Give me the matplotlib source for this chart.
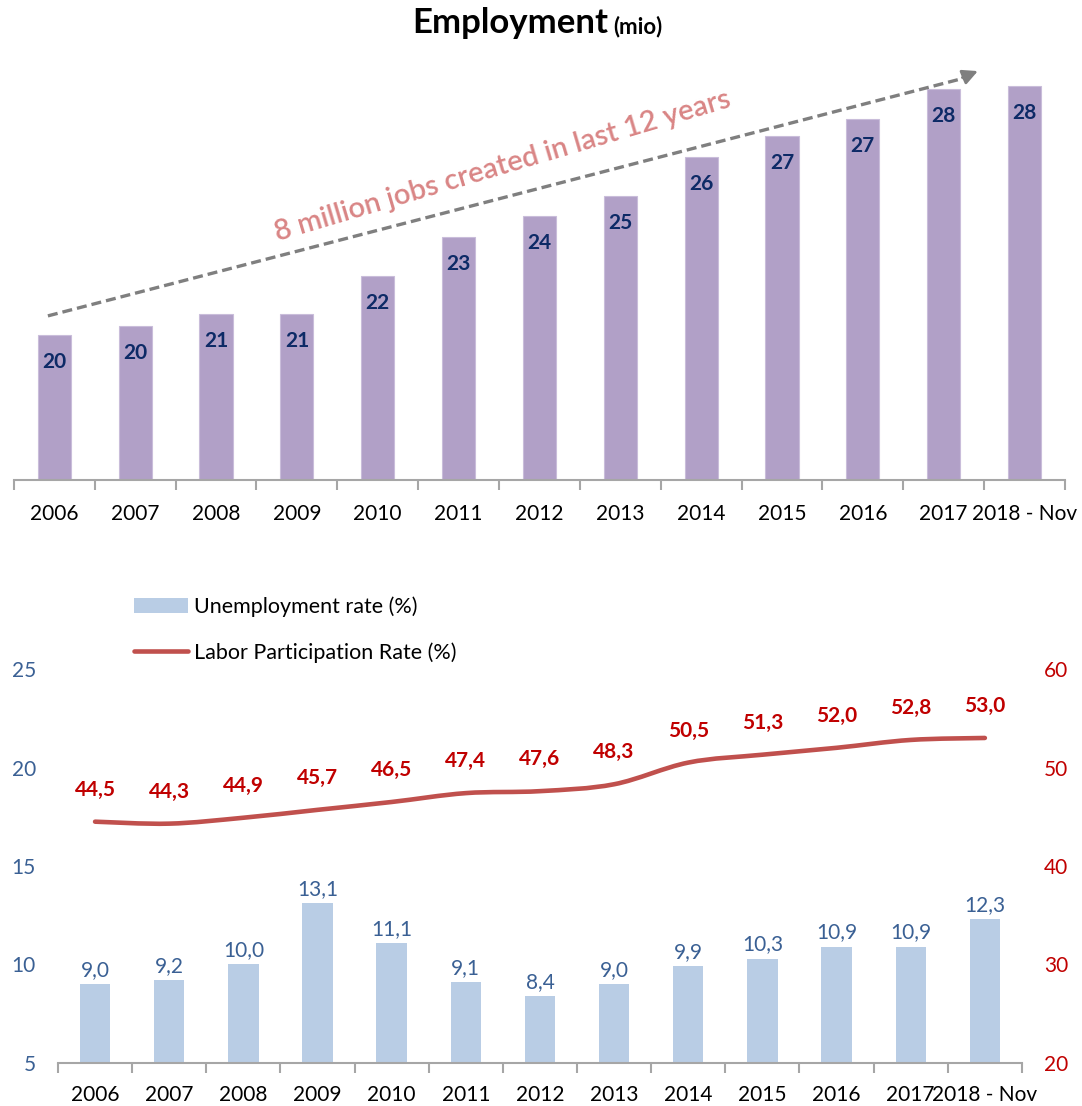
import numpy as np
import matplotlib
matplotlib.use("Agg")
import matplotlib.pyplot as plt
from matplotlib.path import Path
from matplotlib.patches import PathPatch, Patch
from matplotlib.lines import Line2D

plt.rcParams['font.family'] = ['Lato', 'DejaVu Sans']

# data
years = ['2006', '2007', '2008', '2009', '2010', '2011', '2012', '2013',
         '2014', '2015', '2016', '2017', '2018 - Nov']
employment = [19.9, 20.2, 20.6, 20.6, 21.9, 23.2, 23.9, 24.6, 25.9, 26.6, 27.2, 28.2, 28.3]
unemployment = [9.0, 9.2, 10.0, 13.1, 11.1, 9.1, 8.4, 9.0, 9.9, 10.3, 10.9, 10.9, 12.3]
participation = [44.5, 44.3, 44.9, 45.7, 46.5, 47.4, 47.6, 48.3, 50.5, 51.3, 52.0, 52.8, 53.0]

purple = '#B1A0C7'
navy = '#0D2A66'
lightblue = '#B9CDE5'
steel = '#3A6094'
darkred = '#C00000'
linered = '#C0504D'
axgray = '#A6A6A6'

fig = plt.figure(figsize=(10.82, 11.06), dpi=100)
x = np.arange(len(years))

# ---- top chart: employment
ax1 = fig.add_axes([0.0129, 0.566, 0.9713, 0.375])
ax1.bar(x, employment, width=0.41, color=purple, edgecolor='#C9BDDA', linewidth=0.8)
ax1.set_ylim(15, 29)
ax1.set_xlim(-0.5, len(years) - 0.5)
for i, v in enumerate(employment):
    ax1.annotate(f"{v:.0f}", (i, v), xytext=(0, -19.5), textcoords='offset points',
                 ha='center', va='center', fontsize=15, fontweight='bold', color=navy)
for s in ['top', 'right', 'left']:
    ax1.spines[s].set_visible(False)
ax1.spines['bottom'].set_color(axgray)
ax1.spines['bottom'].set_linewidth(1.5)
ax1.set_yticks([])
ax1.set_xticks(x)
ax1.set_xticklabels(years, fontsize=15)
ax1.tick_params(axis='x', length=0, pad=17)
ax1.set_xticks(np.arange(-0.5, len(years)), minor=True)
ax1.tick_params(axis='x', which='minor', length=7, width=1.5, color=axgray)

# trend arrow
ax1.plot([-0.08, 11.3], [20.54, 28.6], ls=(0, (3, 1.5)), color='#7F7F7F', lw=2.4)
ax1.annotate('', xy=(11.455, 28.84), xytext=(11.2, 28.55),
             arrowprops=dict(arrowstyle='-|>,head_length=0.9,head_width=0.45',
                             color='#7F7F7F', lw=2))
ax1.text(5.55, 25.6, '8 million jobs created in last 12 years', rotation=16.5,
         rotation_mode='anchor', ha='center', va='center', fontsize=21,
         fontweight='semibold', color='#D98585')

fig.text(0.562, 0.979, 'Employment', ha='right', va='center', fontsize=25,
         fontweight='bold')
fig.text(0.5665, 0.976, '(mio)', ha='left', va='center', fontsize=16,
         fontweight='bold')

# ---- bottom chart: unemployment & participation
ax2 = fig.add_axes([0.0536, 0.0389, 0.8909, 0.3562])
ax2.bar(x, unemployment, width=0.41, color=lightblue)
ax2.set_ylim(5, 25)
ax2.set_xlim(-0.5, len(years) - 0.5)
ax2.set_yticks([5, 10, 15, 20, 25])
for i, v in enumerate(unemployment):
    ax2.annotate(f"{v:.1f}".replace('.', ','), (i, v), xytext=(0, 3),
                 textcoords='offset points', ha='center', va='bottom',
                 fontsize=15, color=steel)
for s in ['top', 'right', 'left']:
    ax2.spines[s].set_visible(False)
ax2.spines['bottom'].set_color(axgray)
ax2.spines['bottom'].set_linewidth(1.5)
ax2.tick_params(axis='y', length=0, labelsize=15, labelcolor=steel, pad=16)
ax2.set_xticks(x)
ax2.set_xticklabels(years, fontsize=15)
ax2.tick_params(axis='x', length=0, pad=16)
ax2.set_xticks(np.arange(-0.5, len(years)), minor=True)
ax2.tick_params(axis='x', which='minor', length=7, width=1.5, color=axgray)

ax3 = ax2.twinx()
ax3.set_ylim(20, 60)
ax3.set_yticks([20, 30, 40, 50, 60])
for s in ['top', 'right', 'left', 'bottom']:
    ax3.spines[s].set_visible(False)
ax3.tick_params(axis='y', length=0, labelsize=15, labelcolor=darkred, pad=16)

# smoothed line (Catmull-Rom drawn as cubic Bezier)
px = x.astype(float)
py = np.array(participation, dtype=float)
verts = [(px[0], py[0])]
codes = [Path.MOVETO]
n = len(px)
for i in range(n - 1):
    p0 = (px[max(i - 1, 0)], py[max(i - 1, 0)])
    p1 = (px[i], py[i])
    p2 = (px[i + 1], py[i + 1])
    p3 = (px[min(i + 2, n - 1)], py[min(i + 2, n - 1)])
    c1 = (p1[0] + (p2[0] - p0[0]) / 6, p1[1] + (p2[1] - p0[1]) / 6)
    c2 = (p2[0] - (p3[0] - p1[0]) / 6, p2[1] - (p3[1] - p1[1]) / 6)
    verts += [c1, c2, p2]
    codes += [Path.CURVE4] * 3
ax3.add_patch(PathPatch(Path(verts, codes), facecolor='none', edgecolor=linered,
                        lw=3.3, capstyle='round'))
for i, v in enumerate(participation):
    ax3.annotate(f"{v:.1f}".replace('.', ','), (i, v), xytext=(0, 23),
                 textcoords='offset points', ha='center', va='center',
                 fontsize=15, fontweight='bold', color=darkred)

handles = [Patch(facecolor=lightblue, edgecolor='none'),
           Line2D([0], [0], color=linered, lw=3.3, solid_capstyle='round')]
fig.legend(handles, ['Unemployment rate (%)', 'Labor Participation Rate (%)'],
           loc='upper left', bbox_to_anchor=(0.106, 0.478), frameon=False,
           fontsize=15.5, labelspacing=1.15, handlelength=2.5, handletextpad=0.3)

fig.savefig('out.png', dpi=100)
